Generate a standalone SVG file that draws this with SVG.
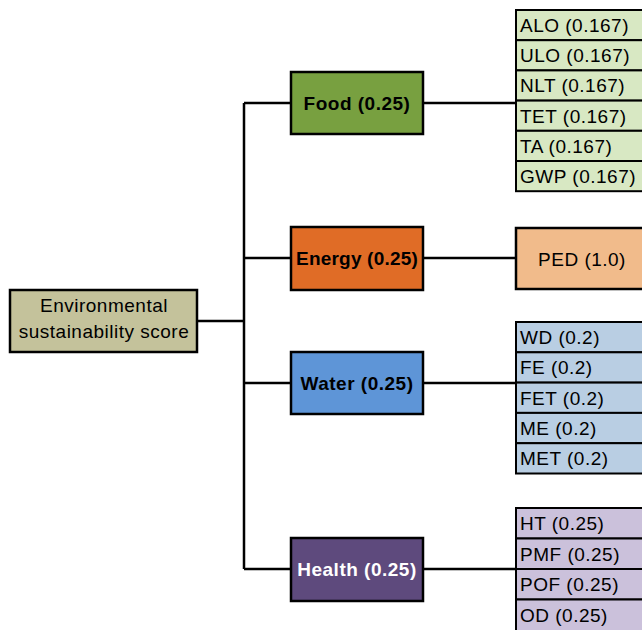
<svg xmlns="http://www.w3.org/2000/svg" width="642" height="630" viewBox="0 0 642 630">
<style>
.box{stroke:#000;stroke-width:2.5}
.cell{stroke:#000;stroke-width:2}
.t{font-family:"Liberation Sans",Arial,sans-serif;font-size:19px;letter-spacing:0.5px;fill:#000}
.b{font-weight:bold;text-anchor:middle}
.c{text-anchor:middle}
.w{fill:#fff}
.line{stroke:#000;stroke-width:2.5;fill:none}
.food{fill:#d8e8c3}.water{fill:#b9cee3}.health{fill:#cbc1db}
</style>
<rect width="642" height="630" fill="#fff"/>
<g id="connectors">
<path class="line" d="M197 321H244M244 103V569M244 103H291M244 258H291M244 383H291M244 569H291"/>
<path class="line" d="M423 103H516M423 258H516M423 383H516M423 569H516"/>
</g>
<g id="root">
<rect class="box" x="10" y="290" width="187" height="62" fill="#c4c29b"/>
<text class="t c" x="104" y="312">Environmental</text>
<text class="t c" x="104" y="338">sustainability score</text>
</g>
<g id="food">
<rect class="box" x="291" y="72" width="132" height="62" fill="#78a040"/>
<text class="t b" x="357" y="110">Food (0.25)</text>
</g>
<g id="energy">
<rect class="box" x="291" y="227" width="132" height="63" fill="#e06c26"/>
<text class="t b" x="357" y="265" style="letter-spacing:0.2px">Energy (0.25)</text>
</g>
<g id="water">
<rect class="box" x="291" y="352" width="132" height="62" fill="#5e95d7"/>
<text class="t b" x="357" y="390">Water (0.25)</text>
</g>
<g id="health">
<rect class="box" x="291" y="538" width="132" height="63" fill="#5e4a7d"/>
<text class="t b w" x="357" y="576">Health (0.25)</text>
</g>
<g id="food-indicators">
<rect class="cell food" x="516" y="10" width="140" height="30.2"/>
<rect class="cell food" x="516" y="40.2" width="140" height="30.2"/>
<rect class="cell food" x="516" y="70.4" width="140" height="30.2"/>
<rect class="cell food" x="516" y="100.6" width="140" height="30.2"/>
<rect class="cell food" x="516" y="130.8" width="140" height="30.2"/>
<rect class="cell food" x="516" y="161" width="140" height="30.2"/>
<text class="t" x="520" y="32">ALO (0.167)</text>
<text class="t" x="520" y="62.2">ULO (0.167)</text>
<text class="t" x="520" y="92.4">NLT (0.167)</text>
<text class="t" x="520" y="122.6">TET (0.167)</text>
<text class="t" x="520" y="152.8">TA (0.167)</text>
<text class="t" x="520" y="183">GWP (0.167)</text>
</g>
<g id="energy-indicators">
<rect class="box" x="516" y="228" width="140" height="61" fill="#f1bb8b"/>
<text class="t c" x="582" y="265.5">PED (1.0)</text>
</g>
<g id="water-indicators">
<rect class="cell water" x="516" y="322" width="140" height="30.3"/>
<rect class="cell water" x="516" y="352.3" width="140" height="30.3"/>
<rect class="cell water" x="516" y="382.6" width="140" height="30.3"/>
<rect class="cell water" x="516" y="412.9" width="140" height="30.3"/>
<rect class="cell water" x="516" y="443.2" width="140" height="30.3"/>
<text class="t" x="520" y="344">WD (0.2)</text>
<text class="t" x="520" y="374.3">FE (0.2)</text>
<text class="t" x="520" y="404.6">FET (0.2)</text>
<text class="t" x="520" y="434.9">ME (0.2)</text>
<text class="t" x="520" y="465.2">MET (0.2)</text>
</g>
<g id="health-indicators">
<rect class="cell health" x="516" y="508" width="140" height="30.5"/>
<rect class="cell health" x="516" y="538.5" width="140" height="30.5"/>
<rect class="cell health" x="516" y="569" width="140" height="30.5"/>
<rect class="cell health" x="516" y="599.5" width="140" height="32"/>
<text class="t" x="520" y="530">HT (0.25)</text>
<text class="t" x="520" y="560.5">PMF (0.25)</text>
<text class="t" x="520" y="591">POF (0.25)</text>
<text class="t" x="520" y="621.5">OD (0.25)</text>
</g>
</svg>
